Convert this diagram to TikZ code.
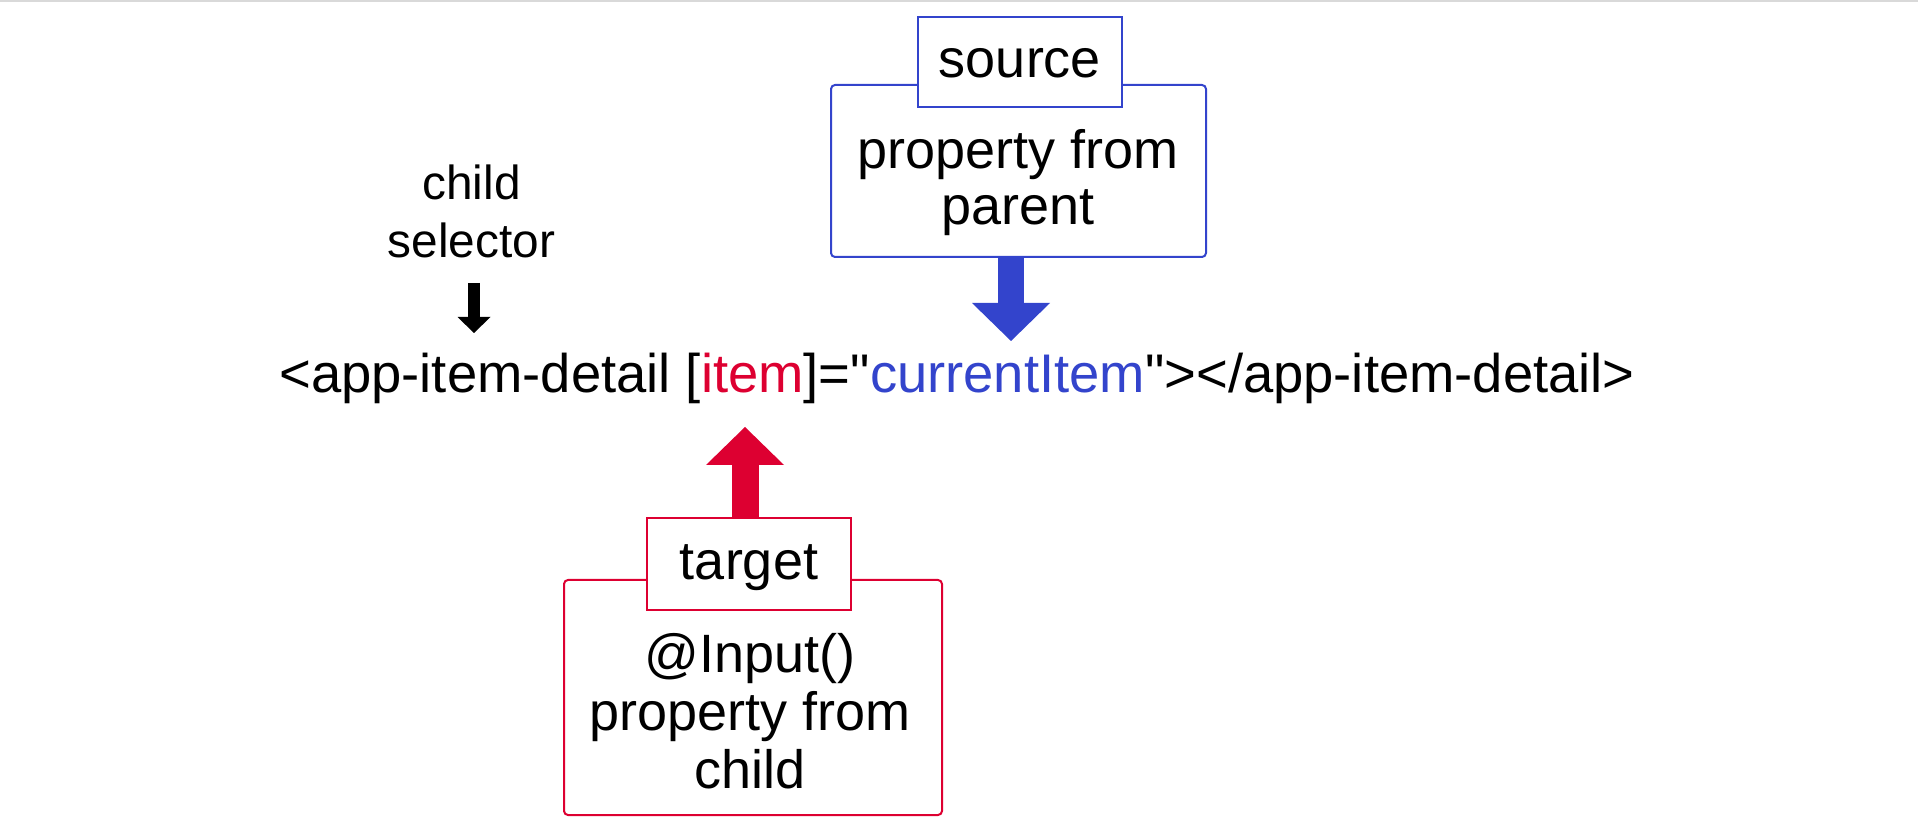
\documentclass[tikz,border=0pt]{standalone}
\usepackage{fontspec}
\setmainfont{Liberation Sans}
\newfontfamily\codefont{Liberation Sans}[Ligatures=TeXOff]
\usetikzlibrary{arrows.meta,positioning}
\definecolor{BindBlue}{HTML}{3344CC}
\definecolor{BindRed}{HTML}{DD0031}
\definecolor{EdgeGray}{HTML}{D9D9D9}

\begin{document}
\begin{tikzpicture}[
    x=0.5pt, y=-0.5pt,
    panel/.style={draw, line width=1pt, rounded corners=2pt, fill=white},
    tag/.style={draw, line width=1pt, fill=white, minimum width=102pt, minimum height=45pt, inner sep=0pt, text height=21pt, text depth=5pt, font=\fontsize{27}{28.5}\selectfont},
    words/.style={align=center, inner sep=0pt, font=\fontsize{27}{29}\selectfont},
    fat/.style={line width=13pt, -{Triangle[width=39pt, length=19pt, line width=0pt]}}
  ]
    \useasboundingbox (0,0) rectangle (1918,828);
    \draw[EdgeGray, line width=1pt] (0,1) -- (1918,1);

    % binding line
    \node[words, anchor=base, font=\codefont\fontsize{27.2}{30}\selectfont] (binding) at (957,393)
      {<app-item-detail [\textcolor{BindRed}{item}]="\textcolor{BindBlue}{currentItem}"></app-item-detail>};

    % source side
    \node[panel, draw=BindBlue, minimum width=187.5pt, minimum height=86pt] (srcpanel) at (1018.5,171) {};
    \node[tag, draw=BindBlue] (srctag) at (1020,62) {source};
    \node[words, font=\fontsize{27}{28}\selectfont] (srctext) at (1018,183) {property from\\parent};
    \coordinate (srctip) at (1011,341);
    \draw[fat, BindBlue] (srctip |- srcpanel.south) -- (srctip);

    % target side
    \node[panel, draw=BindRed, minimum width=189pt, minimum height=117.5pt] (tgtpanel) at (753,697.5) {};
    \node[tag, draw=BindRed, minimum height=46pt] (tgttag) at (749,564) {target};
    \node[words] (tgttext) at (750,711) {@Input()\\property from\\child};
    \coordinate (tgttip) at (745,427);
    \draw[fat, BindRed, line width=13.5pt] (tgttip |- tgttag.north) -- (tgttip);

    % child selector
    \node[words, font=\fontsize{23.9}{29}\selectfont] (selector) at (471.5,211) {child\\selector};
    \coordinate (selfoot) at (474,283);
    \coordinate (seltip) at (474,333);
    \draw[line width=6pt, -{Triangle[width=16.5pt, length=8pt, line width=0pt]}] (selfoot) -- (seltip);
\end{tikzpicture}
\end{document}
